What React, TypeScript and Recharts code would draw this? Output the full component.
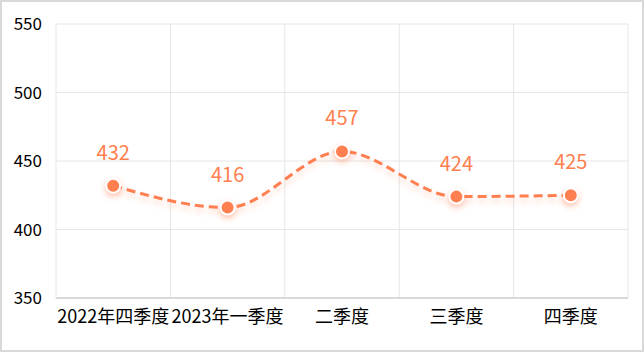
import React from "react";
import { LineChart, Line, XAxis, YAxis, CartesianGrid, LabelList } from "recharts";

const categories = ["2022年四季度", "2023年一季度", "二季度", "三季度", "四季度"];
const values = [432, 416, 457, 424, 425];
const yTicks = [350, 400, 450, 500, 550];

const data = categories.map((c, i) => ({ name: c, value: values[i] }));

const COLOR = "#ff7f50";
const FONT = "'Noto Sans CJK SC', 'Noto Sans', sans-serif";

const Dot = (props: any) => {
  const { cx, cy } = props;
  if (cx == null || cy == null) return null;
  return <circle className="my-dot" cx={cx} cy={cy} r={7} fill={COLOR} stroke="#fff" strokeWidth={2} />;
};

export default function App() {
  return (
    <div
      style={{
        position: "absolute",
        left: 0,
        top: 0,
        width: 644,
        height: 352,
        border: "2px solid #d9d9d9",
        boxSizing: "border-box",
        background: "#fff",
      }}
    >
      <style>{`
        .recharts-line-curve { filter: drop-shadow(0px 4px 3px rgba(255,127,80,0.35)); }
        .my-dot { filter: drop-shadow(0px 3px 3px rgba(255,127,80,0.45)); }
      `}</style>
      <div style={{ position: "absolute", left: -2, top: -2 }}>
        <LineChart
          width={644}
          height={352}
          data={data}
          margin={{ top: 24, right: 16, bottom: 0, left: 0 }}
        >
          <CartesianGrid
            stroke="#e6e6e6"
            strokeWidth={1}
            verticalCoordinatesGenerator={(p: any) => {
              const off = p.offset;
              return [0, 1, 2, 3, 4, 5].map((i) => off.left + (i * off.width) / 5);
            }}
          />
          <XAxis
            dataKey="name"
            scale="band"
            interval={0}
            tickLine={false}
            tickSize={0}
            tickMargin={12}
            height={54}
            axisLine={{ stroke: "#d9d9d9", strokeWidth: 2 }}
            tick={{ fill: "#000", fontSize: 18, fontFamily: FONT }}
          />
          <YAxis
            domain={[350, 550]}
            ticks={yTicks}
            width={56}
            tickLine={false}
            tickSize={0}
            tickMargin={14}
            axisLine={false}
            tick={{ fill: "#000", fontSize: 17, fontFamily: FONT }}
          />
          <Line
            type="monotone"
            dataKey="value"
            stroke={COLOR}
            strokeWidth={3}
            strokeDasharray="9 5"
            dot={<Dot />}
            activeDot={false}
            isAnimationActive={false}
          >
            <LabelList
              dataKey="value"
              position="top"
              offset={26}
              fill={COLOR}
              fontSize={20}
              fontFamily={FONT}
            />
          </Line>
        </LineChart>
      </div>
    </div>
  );
}
